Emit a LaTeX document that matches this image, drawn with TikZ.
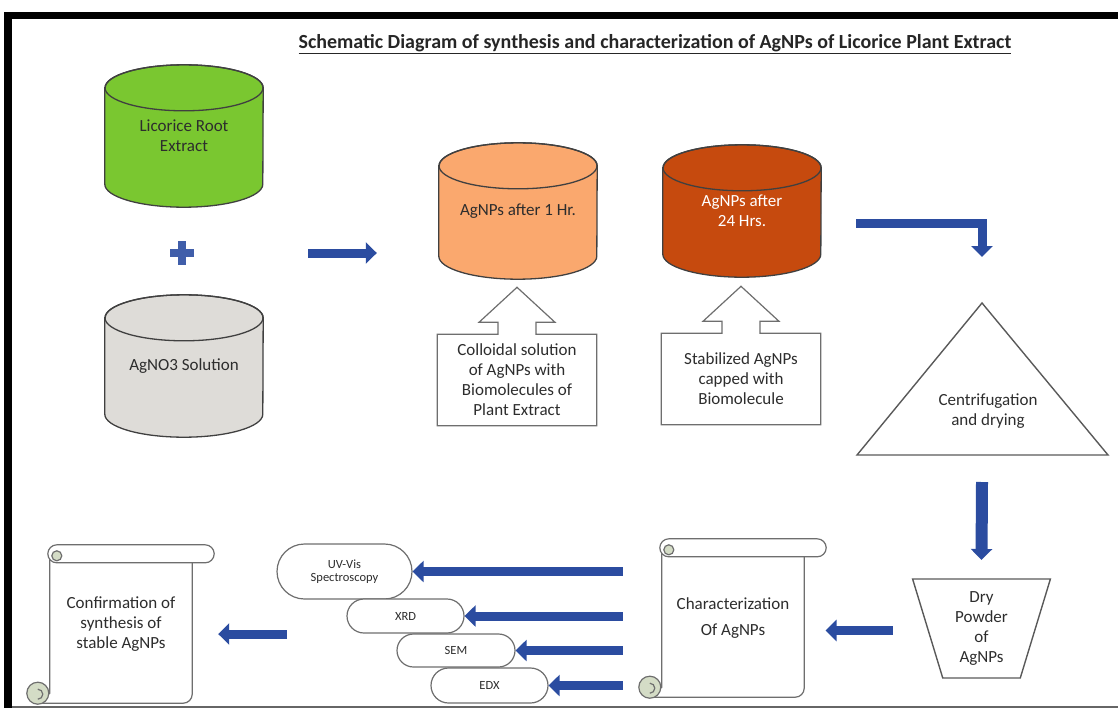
\documentclass[tikz,border=0pt]{standalone}
\usepackage{fontspec}
\setmainfont{Carlito}
\usetikzlibrary{arrows.meta, calc, positioning, shapes.geometric, shapes.misc, backgrounds}

\definecolor{rootgreen}{RGB}{122,199,48}
\definecolor{nitrategray}{RGB}{222,220,216}
\definecolor{peach}{RGB}{250,168,110}
\definecolor{rust}{RGB}{198,74,14}
\definecolor{flowblue}{RGB}{43,76,160}
\definecolor{curlfill}{RGB}{212,220,198}
\definecolor{inkgray}{RGB}{45,45,45}
\definecolor{edgegray}{RGB}{110,110,110}

\tikzset{
  canline/.style={draw=black!75, line width=1.3pt},
  canbox/.style={minimum width=158pt, inner sep=0pt, align=center, text=inkgray},
  blockarrow/.style={draw=flowblue, line width=9pt, -{Triangle[length=11pt,width=21pt]}},
  callbox/.style={minimum width=159pt, minimum height=91pt, inner sep=0pt, align=center, text=inkgray},
  callline/.style={draw=edgegray, line width=1.2pt, fill=white},
  scrollbox/.style={minimum width=142pt, minimum height=158pt, inner sep=0pt, align=center, text=inkgray},
  scrollline/.style={draw=edgegray, line width=1.2pt},
  technique/.style={rounded rectangle, draw=edgegray, line width=1.2pt, fill=white, inner sep=2pt,
    align=center, text=inkgray, font=\fontsize{12.5}{13}\selectfont},
  shapeline/.style={draw=black!65, line width=1.4pt},
}

% can drawn behind its text node
\newcommand{\drawcan}[2]{%
  \filldraw[canline, fill=#2] ($(#1.north west)+(0,-23)$) -- ($(#1.south west)+(0,23)$)
    arc[start angle=180, end angle=360, x radius=79pt, y radius=23pt]
    -- ($(#1.north east)+(0,-23)$)
    arc[start angle=0, end angle=180, x radius=79pt, y radius=23pt] -- cycle;
  \draw[canline] ($(#1.north)+(0,-23)$) ellipse[x radius=79pt, y radius=23pt];
}

% up arrow callout round a text box
\newcommand{\drawcallout}[1]{%
  \filldraw[callline] (#1.south west) -- (#1.north west)
    -- ($(#1.north)+(-19,0)$) -- ++(0,12) -- ++(-19,0) -- ($(#1.north)+(0,47)$)
    -- ($(#1.north)+(38,12)$) -- ++(-19,0) -- ($(#1.north)+(19,0)$)
    -- (#1.north east) -- (#1.south east) -- cycle;
}

% vertical scroll round a text box
\newcommand{\drawscroll}[1]{%
  \filldraw[scrollline, fill=white] ($(#1.north west)+(0,-9)$) -- ($(#1.south west)+(0,10)$)
    -- ($(#1.south west)+(-12,0)$) [rounded corners=9pt] -- (#1.south east) [sharp corners]
    -- ($(#1.north east)+(0,-9)$) -- cycle;
  \filldraw[scrollline, fill=white, rounded corners=9pt] ($(#1.north west)+(-2,0)$)
    rectangle ($(#1.north east)+(22,-18)$);
  \filldraw[scrollline, fill=curlfill] ($(#1.north west)+(7,-11)$) circle[radius=5pt];
  \filldraw[scrollline, fill=curlfill] ($(#1.south west)+(-12,10)$) circle[radius=11pt];
  \draw[scrollline] ($(#1.south west)+(-12,4)$) arc[start angle=-90, end angle=90, radius=5pt];
}

\begin{document}
\begin{tikzpicture}[x=1pt, y=1pt, font=\fontsize{17}{20}\selectfont]
    \useasboundingbox (0,0) rectangle (1118,-717);

    % ==========================================
    % Frame and title
    % ==========================================
    \fill[black] (4,-12) rectangle (1118,-19);
    \fill[black] (4,-12) rectangle (12,-708);
    \draw[black!60, line width=1.5pt] (12,-707) -- (1118,-707);

    \node[font=\fontsize{20}{22}\selectfont\bfseries, text=black!85] (title) at (655,-44)
        {\underline{Schematic Diagram of synthesis and characterization of AgNPs of Licorice Plant Extract}};

    % ==========================================
    % Reactants
    % ==========================================
    \node[canbox, minimum height=142pt] (licorice) at (184,-136) {Licorice Root\\Extract};
    \node[canbox, minimum height=142pt] (nitrate) at (184,-366) {AgNO3 Solution};
    \coordinate (plus) at (182,-253);
    \fill[flowblue!90!white] (178,-241) rectangle (186,-265);
    \fill[flowblue!90!white] (170,-249) rectangle (194,-257);

    % ==========================================
    % AgNPs after 1 and 24 hours
    % ==========================================
    \node[canbox, minimum height=136pt] (cyl1h) at (518,-211) {AgNPs after 1 Hr.};
    \node[canbox, minimum height=132pt, text=white] (cyl24) at (742,-211) {AgNPs after\\24 Hrs.};

    \node[callbox] (colloid) at (517,-380) {Colloidal solution\\of AgNPs with\\Biomolecules of\\Plant Extract};
    \node[callbox] (capped) at (741,-379) {Stabilized AgNPs\\capped with\\Biomolecule};

    \begin{scope}[on background layer]
        \drawcan{licorice}{rootgreen}
        \drawcan{nitrate}{nitrategray}
        \drawcan{cyl1h}{peach}
        \drawcan{cyl24}{rust}
        \drawcallout{colloid}
        \drawcallout{capped}
    \end{scope}

    \draw[blockarrow] ($(plus)+(126,0)$) -- ($(cyl1h.west |- plus)+(-62,0)$);

    % ==========================================
    % Centrifugation and drying
    % ==========================================
    \coordinate (apex) at (982,-303);
    \coordinate (tribl) at (857,-455);
    \coordinate (tribr) at (1108,-455);
    \draw[shapeline] (apex) -- (tribr) -- (tribl) -- cycle;
    \node[text=inkgray, align=center] (centri) at (988,-411) {Centrifugation\\and drying};

    \draw[blockarrow, line join=miter] ($(cyl24.east)+(35,-12)$) -| ($(apex)+(0,46)$);

    \node[trapezium, shape border rotate=180, trapezium left angle=74.5, trapezium right angle=74.5,
        trapezium stretches=true, minimum width=139pt, minimum height=99pt, inner sep=0pt,
        shapeline, text=inkgray, align=center] (dry) at (981.5,-628.5) {Dry\\Powder\\of\\AgNPs};

    \draw[blockarrow, line width=12pt] ($(apex |- tribl)+(0,-27)$) -- ($(dry.center)+(0,68.5)$);

    % ==========================================
    % Characterization
    % ==========================================
    \node[scrollbox] (charscroll) at (733,-618) {Characterization\\[6pt]Of AgNPs};
    \node[scrollbox] (confirm) at (121,-624) {Confirmation of\\synthesis of\\stable AgNPs};
    \begin{scope}[on background layer]
        \drawscroll{charscroll}
        \drawscroll{confirm}
    \end{scope}

    \draw[blockarrow] ($(dry.center)+(-89,-2)$) -- ++(-67,0);

    \node[technique, minimum width=139pt, minimum height=55pt] (uv) at (344.5,-571.5) {UV-Vis\\Spectroscopy};
    \node[technique, minimum width=121pt, minimum height=34pt] (xrd) at (405.5,-616) {XRD};
    \node[technique, minimum width=122pt, minimum height=33pt] (sem) at (456,-650.5) {SEM};
    \node[technique, minimum width=121pt, minimum height=35pt] (edx) at (489.5,-685.5) {EDX};

    \foreach \tech in {uv, xrd, sem, edx}
        \draw[blockarrow] ($(charscroll.west |- \tech.east)+(-39,0)$) -- (\tech.east);

    \draw[blockarrow] ($(confirm.east)+(95,-10)$) -- ($(confirm.east)+(26,-10)$);

\end{tikzpicture}
\end{document}
